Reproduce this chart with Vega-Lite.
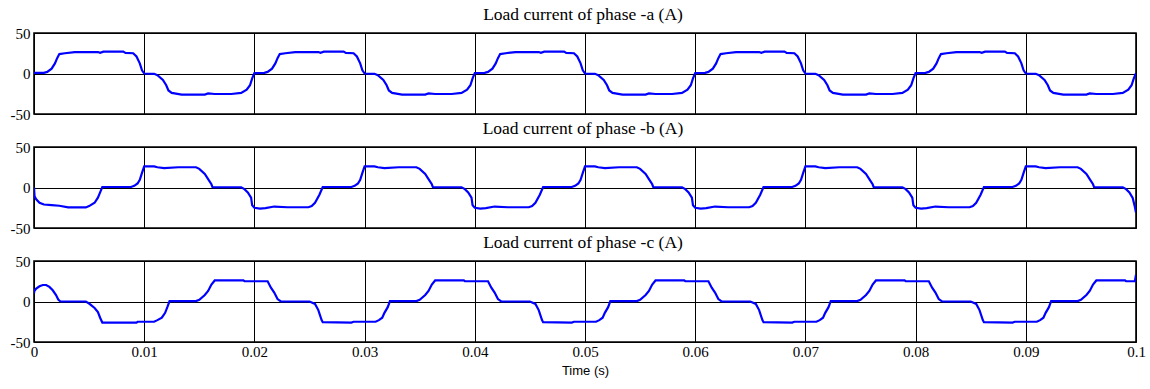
{
  "$schema": "https://vega.github.io/schema/vega-lite/v6.json",
  "padding": {"left": 9, "top": 4, "right": 5, "bottom": 2},
  "spacing": 33,
  "bounds": "flush",
  "config": {
    "view": {"stroke": "black", "strokeWidth": 1.6},
    "font": "Liberation Serif",
    "title": {"font": "Liberation Serif", "fontSize": 17.5, "fontWeight": "normal", "color": "black", "anchor": "middle", "baseline": "alphabetic", "frame": "group", "offset": 3, "dx": -2},
    "axis": {"domain": false, "ticks": false, "grid": true, "gridColor": "black", "gridOpacity": 1, "gridWidth": 1, "labelFont": "Liberation Serif", "labelFontSize": 15, "labelColor": "black", "labelFlush": false, "labelOverlap": false, "title": null}
  },
  "datasets": {
    "a": [
      {"t":0,"i":0.8},{"t":0.0009,"i":0.8},{"t":0.0012,"i":2},{"t":0.0016,"i":6},{"t":0.0019,"i":12.5},{"t":0.0021,"i":19},{"t":0.0023,"i":24},{"t":0.0028,"i":25},{"t":0.0037,"i":26.5},{"t":0.0058,"i":26.5},{"t":0.006,"i":25.5},{"t":0.0063,"i":27},{"t":0.0081,"i":27},{"t":0.0083,"i":25.5},{"t":0.009,"i":25},{"t":0.0093,"i":21},{"t":0.0096,"i":12.5},{"t":0.0098,"i":4},{"t":0.01,"i":0},{"t":0.0109,"i":-0.4},{"t":0.0112,"i":-2},{"t":0.0117,"i":-8},{"t":0.012,"i":-14.5},{"t":0.0122,"i":-21},{"t":0.0125,"i":-24},{"t":0.0134,"i":-26},{"t":0.0155,"i":-26},{"t":0.0158,"i":-24.6},{"t":0.0164,"i":-25.3},{"t":0.0179,"i":-25.3},{"t":0.0188,"i":-24},{"t":0.0193,"i":-20},{"t":0.0196,"i":-14.5},{"t":0.0198,"i":-6},
      {"t":0.02,"i":0.5},{"t":0.0209,"i":0.8},{"t":0.0212,"i":2},{"t":0.0216,"i":6},{"t":0.0219,"i":12.5},{"t":0.0221,"i":19},{"t":0.0223,"i":24},{"t":0.0228,"i":25},{"t":0.0237,"i":26.5},{"t":0.0258,"i":26.5},{"t":0.026,"i":25.5},{"t":0.0263,"i":27},{"t":0.0281,"i":27},{"t":0.0283,"i":25.5},{"t":0.029,"i":25},{"t":0.0293,"i":21},{"t":0.0296,"i":12.5},{"t":0.0298,"i":4},{"t":0.03,"i":0},{"t":0.0309,"i":-0.4},{"t":0.0312,"i":-2},{"t":0.0317,"i":-8},{"t":0.032,"i":-14.5},{"t":0.0322,"i":-21},{"t":0.0325,"i":-24},{"t":0.0334,"i":-26},{"t":0.0355,"i":-26},{"t":0.0358,"i":-24.6},{"t":0.0364,"i":-25.3},{"t":0.0379,"i":-25.3},{"t":0.0388,"i":-24},{"t":0.0393,"i":-20},{"t":0.0396,"i":-14.5},{"t":0.0398,"i":-6},
      {"t":0.04,"i":0.5},{"t":0.0409,"i":0.8},{"t":0.0412,"i":2},{"t":0.0416,"i":6},{"t":0.0419,"i":12.5},{"t":0.0421,"i":19},{"t":0.0423,"i":24},{"t":0.0428,"i":25},{"t":0.0437,"i":26.5},{"t":0.0458,"i":26.5},{"t":0.046,"i":25.5},{"t":0.0463,"i":27},{"t":0.0481,"i":27},{"t":0.0483,"i":25.5},{"t":0.049,"i":25},{"t":0.0493,"i":21},{"t":0.0496,"i":12.5},{"t":0.0498,"i":4},{"t":0.05,"i":0},{"t":0.0509,"i":-0.4},{"t":0.0512,"i":-2},{"t":0.0517,"i":-8},{"t":0.052,"i":-14.5},{"t":0.0522,"i":-21},{"t":0.0525,"i":-24},{"t":0.0534,"i":-26},{"t":0.0555,"i":-26},{"t":0.0558,"i":-24.6},{"t":0.0564,"i":-25.3},{"t":0.0579,"i":-25.3},{"t":0.0588,"i":-24},{"t":0.0593,"i":-20},{"t":0.0596,"i":-14.5},{"t":0.0598,"i":-6},
      {"t":0.06,"i":0.5},{"t":0.0609,"i":0.8},{"t":0.0612,"i":2},{"t":0.0616,"i":6},{"t":0.0619,"i":12.5},{"t":0.0621,"i":19},{"t":0.0623,"i":24},{"t":0.0628,"i":25},{"t":0.0637,"i":26.5},{"t":0.0658,"i":26.5},{"t":0.066,"i":25.5},{"t":0.0663,"i":27},{"t":0.0681,"i":27},{"t":0.0683,"i":25.5},{"t":0.069,"i":25},{"t":0.0693,"i":21},{"t":0.0696,"i":12.5},{"t":0.0698,"i":4},{"t":0.07,"i":0},{"t":0.0709,"i":-0.4},{"t":0.0712,"i":-2},{"t":0.0717,"i":-8},{"t":0.072,"i":-14.5},{"t":0.0722,"i":-21},{"t":0.0725,"i":-24},{"t":0.0734,"i":-26},{"t":0.0755,"i":-26},{"t":0.0758,"i":-24.6},{"t":0.0764,"i":-25.3},{"t":0.0779,"i":-25.3},{"t":0.0788,"i":-24},{"t":0.0793,"i":-20},{"t":0.0796,"i":-14.5},{"t":0.0798,"i":-6},
      {"t":0.08,"i":0.5},{"t":0.0809,"i":0.8},{"t":0.0812,"i":2},{"t":0.0816,"i":6},{"t":0.0819,"i":12.5},{"t":0.0821,"i":19},{"t":0.0823,"i":24},{"t":0.0828,"i":25},{"t":0.0837,"i":26.5},{"t":0.0858,"i":26.5},{"t":0.086,"i":25.5},{"t":0.0863,"i":27},{"t":0.0881,"i":27},{"t":0.0883,"i":25.5},{"t":0.089,"i":25},{"t":0.0893,"i":21},{"t":0.0896,"i":12.5},{"t":0.0898,"i":4},{"t":0.09,"i":0},{"t":0.0909,"i":-0.4},{"t":0.0912,"i":-2},{"t":0.0917,"i":-8},{"t":0.092,"i":-14.5},{"t":0.0922,"i":-21},{"t":0.0925,"i":-24},{"t":0.0934,"i":-26},{"t":0.0955,"i":-26},{"t":0.0958,"i":-24.6},{"t":0.0964,"i":-25.3},{"t":0.0979,"i":-25.3},{"t":0.0988,"i":-24},{"t":0.0993,"i":-20},{"t":0.0996,"i":-14.5},{"t":0.0998,"i":-6},{"t":0.1,"i":0.5}
    ],
    "b": [
      {"t":0,"i":0},{"t":0.00005,"i":-11},{"t":0.0002,"i":-14.6},{"t":0.0005,"i":-18.8},{"t":0.0009,"i":-21},{"t":0.0016,"i":-21.7},{"t":0.0023,"i":-22.5},{"t":0.0031,"i":-24.6},{"t":0.0047,"i":-24.6},{"t":0.005,"i":-23},{"t":0.0055,"i":-18.8},{"t":0.0058,"i":-12.5},{"t":0.006,"i":-6},{"t":0.0062,"i":0.6},{"t":0.0088,"i":0.6},{"t":0.0091,"i":2},{"t":0.0094,"i":5},{"t":0.0096,"i":9.5},{"t":0.0098,"i":18},{"t":0.01,"i":26},{"t":0.0109,"i":26},{"t":0.0112,"i":25},{"t":0.0118,"i":24},{"t":0.0131,"i":25},{"t":0.0147,"i":25},{"t":0.015,"i":23},{"t":0.0155,"i":16.7},{"t":0.0158,"i":10.4},{"t":0.0161,"i":4},{"t":0.0162,"i":0.3},{"t":0.0188,"i":0.3},{"t":0.0191,"i":-2},{"t":0.0194,"i":-6},{"t":0.0197,"i":-12.5},{"t":0.0198,"i":-22},
      {"t":0.02,"i":-25},{"t":0.0205,"i":-26},{"t":0.021,"i":-25.5},{"t":0.0218,"i":-23.5},{"t":0.023,"i":-24.4},{"t":0.0249,"i":-24.4},{"t":0.0252,"i":-23},{"t":0.0255,"i":-19},{"t":0.0259,"i":-9},{"t":0.0262,"i":0.6},{"t":0.0288,"i":0.6},{"t":0.0291,"i":2},{"t":0.0294,"i":5},{"t":0.0296,"i":9.5},{"t":0.0298,"i":18},{"t":0.03,"i":26},{"t":0.0309,"i":26},{"t":0.0312,"i":25},{"t":0.0318,"i":24},{"t":0.0331,"i":25},{"t":0.0347,"i":25},{"t":0.035,"i":23},{"t":0.0355,"i":16.7},{"t":0.0358,"i":10.4},{"t":0.0361,"i":4},{"t":0.0362,"i":0.3},{"t":0.0388,"i":0.3},{"t":0.0391,"i":-2},{"t":0.0394,"i":-6},{"t":0.0397,"i":-12.5},{"t":0.0398,"i":-22},
      {"t":0.04,"i":-25},{"t":0.0405,"i":-26},{"t":0.041,"i":-25.5},{"t":0.0418,"i":-23.5},{"t":0.043,"i":-24.4},{"t":0.0449,"i":-24.4},{"t":0.0452,"i":-23},{"t":0.0455,"i":-19},{"t":0.0459,"i":-9},{"t":0.0462,"i":0.6},{"t":0.0488,"i":0.6},{"t":0.0491,"i":2},{"t":0.0494,"i":5},{"t":0.0496,"i":9.5},{"t":0.0498,"i":18},{"t":0.05,"i":26},{"t":0.0509,"i":26},{"t":0.0512,"i":25},{"t":0.0518,"i":24},{"t":0.0531,"i":25},{"t":0.0547,"i":25},{"t":0.055,"i":23},{"t":0.0555,"i":16.7},{"t":0.0558,"i":10.4},{"t":0.0561,"i":4},{"t":0.0562,"i":0.3},{"t":0.0588,"i":0.3},{"t":0.0591,"i":-2},{"t":0.0594,"i":-6},{"t":0.0597,"i":-12.5},{"t":0.0598,"i":-22},
      {"t":0.06,"i":-25},{"t":0.0605,"i":-26},{"t":0.061,"i":-25.5},{"t":0.0618,"i":-23.5},{"t":0.063,"i":-24.4},{"t":0.0649,"i":-24.4},{"t":0.0652,"i":-23},{"t":0.0655,"i":-19},{"t":0.0659,"i":-9},{"t":0.0662,"i":0.6},{"t":0.0688,"i":0.6},{"t":0.0691,"i":2},{"t":0.0694,"i":5},{"t":0.0696,"i":9.5},{"t":0.0698,"i":18},{"t":0.07,"i":26},{"t":0.0709,"i":26},{"t":0.0712,"i":25},{"t":0.0718,"i":24},{"t":0.0731,"i":25},{"t":0.0747,"i":25},{"t":0.075,"i":23},{"t":0.0755,"i":16.7},{"t":0.0758,"i":10.4},{"t":0.0761,"i":4},{"t":0.0762,"i":0.3},{"t":0.0788,"i":0.3},{"t":0.0791,"i":-2},{"t":0.0794,"i":-6},{"t":0.0797,"i":-12.5},{"t":0.0798,"i":-22},
      {"t":0.08,"i":-25},{"t":0.0805,"i":-26},{"t":0.081,"i":-25.5},{"t":0.0818,"i":-23.5},{"t":0.083,"i":-24.4},{"t":0.0849,"i":-24.4},{"t":0.0852,"i":-23},{"t":0.0855,"i":-19},{"t":0.0859,"i":-9},{"t":0.0862,"i":0.6},{"t":0.0888,"i":0.6},{"t":0.0891,"i":2},{"t":0.0894,"i":5},{"t":0.0896,"i":9.5},{"t":0.0898,"i":18},{"t":0.09,"i":26},{"t":0.0909,"i":26},{"t":0.0912,"i":25},{"t":0.0918,"i":24},{"t":0.0931,"i":25},{"t":0.0947,"i":25},{"t":0.095,"i":23},{"t":0.0955,"i":16.7},{"t":0.0958,"i":10.4},{"t":0.0961,"i":4},{"t":0.0962,"i":0.3},{"t":0.0988,"i":0.3},{"t":0.0991,"i":-2},{"t":0.0994,"i":-6},{"t":0.0997,"i":-13},{"t":0.0999,"i":-24},{"t":0.1,"i":-31}
    ],
    "c": [
      {"t":0,"i":10},{"t":0.00003,"i":13},{"t":0.0002,"i":16},{"t":0.0005,"i":18.8},{"t":0.0008,"i":20.4},{"t":0.0011,"i":20.4},{"t":0.0014,"i":18},{"t":0.0017,"i":13.8},{"t":0.002,"i":8},{"t":0.0022,"i":2.5},{"t":0.0024,"i":0},{"t":0.0047,"i":0},{"t":0.005,"i":-2.5},{"t":0.0055,"i":-8},{"t":0.0058,"i":-13},{"t":0.006,"i":-20},{"t":0.0062,"i":-26},{"t":0.0093,"i":-26},{"t":0.0094,"i":-25},{"t":0.0109,"i":-25},{"t":0.0112,"i":-23},{"t":0.0116,"i":-20},{"t":0.0119,"i":-14},{"t":0.0121,"i":-7},{"t":0.0123,"i":0.5},{"t":0.0147,"i":0.5},{"t":0.015,"i":2},{"t":0.0155,"i":8},{"t":0.0158,"i":13},{"t":0.0161,"i":21},{"t":0.0164,"i":26},{"t":0.019,"i":26},{"t":0.0191,"i":25},
      {"t":0.02,"i":25},{"t":0.0212,"i":25},{"t":0.0215,"i":17},{"t":0.0218,"i":11},{"t":0.0221,"i":3},{"t":0.0224,"i":0},{"t":0.025,"i":0},{"t":0.0255,"i":-3},{"t":0.0258,"i":-10.6},{"t":0.0261,"i":-23},{"t":0.0262,"i":-25.5},{"t":0.0288,"i":-26},{"t":0.029,"i":-25},{"t":0.031,"i":-25},{"t":0.0313,"i":-23},{"t":0.0316,"i":-20},{"t":0.0318,"i":-14},{"t":0.0321,"i":-7},{"t":0.0323,"i":0.5},{"t":0.0347,"i":0.5},{"t":0.035,"i":2},{"t":0.0355,"i":8},{"t":0.0358,"i":13},{"t":0.0361,"i":21},{"t":0.0364,"i":26},{"t":0.039,"i":26},{"t":0.0391,"i":25},
      {"t":0.04,"i":25},{"t":0.0412,"i":25},{"t":0.0415,"i":17},{"t":0.0418,"i":11},{"t":0.0421,"i":3},{"t":0.0424,"i":0},{"t":0.045,"i":0},{"t":0.0455,"i":-3},{"t":0.0458,"i":-10.6},{"t":0.0461,"i":-23},{"t":0.0462,"i":-25.5},{"t":0.0488,"i":-26},{"t":0.049,"i":-25},{"t":0.051,"i":-25},{"t":0.0513,"i":-23},{"t":0.0516,"i":-20},{"t":0.0518,"i":-14},{"t":0.0521,"i":-7},{"t":0.0523,"i":0.5},{"t":0.0547,"i":0.5},{"t":0.055,"i":2},{"t":0.0555,"i":8},{"t":0.0558,"i":13},{"t":0.0561,"i":21},{"t":0.0564,"i":26},{"t":0.059,"i":26},{"t":0.0591,"i":25},
      {"t":0.06,"i":25},{"t":0.0612,"i":25},{"t":0.0615,"i":17},{"t":0.0618,"i":11},{"t":0.0621,"i":3},{"t":0.0624,"i":0},{"t":0.065,"i":0},{"t":0.0655,"i":-3},{"t":0.0658,"i":-10.6},{"t":0.0661,"i":-23},{"t":0.0662,"i":-25.5},{"t":0.0688,"i":-26},{"t":0.069,"i":-25},{"t":0.071,"i":-25},{"t":0.0713,"i":-23},{"t":0.0716,"i":-20},{"t":0.0718,"i":-14},{"t":0.0721,"i":-7},{"t":0.0723,"i":0.5},{"t":0.0747,"i":0.5},{"t":0.075,"i":2},{"t":0.0755,"i":8},{"t":0.0758,"i":13},{"t":0.0761,"i":21},{"t":0.0764,"i":26},{"t":0.079,"i":26},{"t":0.0791,"i":25},
      {"t":0.08,"i":25},{"t":0.0812,"i":25},{"t":0.0815,"i":17},{"t":0.0818,"i":11},{"t":0.0821,"i":3},{"t":0.0824,"i":0},{"t":0.085,"i":0},{"t":0.0855,"i":-3},{"t":0.0858,"i":-10.6},{"t":0.0861,"i":-23},{"t":0.0862,"i":-25.5},{"t":0.0888,"i":-26},{"t":0.089,"i":-25},{"t":0.091,"i":-25},{"t":0.0913,"i":-23},{"t":0.0916,"i":-20},{"t":0.0918,"i":-14},{"t":0.0921,"i":-7},{"t":0.0923,"i":0.5},{"t":0.0947,"i":0.5},{"t":0.095,"i":2},{"t":0.0955,"i":8},{"t":0.0958,"i":13},{"t":0.0961,"i":21},{"t":0.0964,"i":26},{"t":0.099,"i":26},{"t":0.0991,"i":25},{"t":0.0999,"i":25},{"t":0.1,"i":33}
    ]
  },
  "vconcat": [
    {
      "width": 1102, "height": 81,
      "title": "Load current of phase -a (A)",
      "data": {"name": "a"},
      "mark": {"type": "line", "color": "#0000ff", "strokeWidth": 2.2, "clip": true},
      "encoding": {
        "x": {"field": "t", "type": "quantitative", "scale": {"domain": [0, 0.1], "nice": false}, "axis": {"values": [0,0.01,0.02,0.03,0.04,0.05,0.06,0.07,0.08,0.09,0.1], "labels": false, "minExtent": 0, "maxExtent": 0}},
        "y": {"field": "i", "type": "quantitative", "scale": {"domain": [-50, 50], "nice": false}, "axis": {"values": [-50, 0, 50], "labelPadding": 4, "minExtent": 24, "maxExtent": 24, "labelExpr": "datum.value < 0 ? '-' + (-datum.value) : '' + datum.value"}}
      }
    },
    {
      "width": 1102, "height": 81,
      "title": "Load current of phase -b (A)",
      "data": {"name": "b"},
      "mark": {"type": "line", "color": "#0000ff", "strokeWidth": 2.2, "clip": true},
      "encoding": {
        "x": {"field": "t", "type": "quantitative", "scale": {"domain": [0, 0.1], "nice": false}, "axis": {"values": [0,0.01,0.02,0.03,0.04,0.05,0.06,0.07,0.08,0.09,0.1], "labels": false, "minExtent": 0, "maxExtent": 0}},
        "y": {"field": "i", "type": "quantitative", "scale": {"domain": [-50, 50], "nice": false}, "axis": {"values": [-50, 0, 50], "labelPadding": 4, "minExtent": 24, "maxExtent": 24, "labelExpr": "datum.value < 0 ? '-' + (-datum.value) : '' + datum.value"}}
      }
    },
    {
      "width": 1102, "height": 81,
      "title": "Load current of phase -c (A)",
      "data": {"name": "c"},
      "mark": {"type": "line", "color": "#0000ff", "strokeWidth": 2.2, "clip": true},
      "encoding": {
        "x": {"field": "t", "type": "quantitative", "scale": {"domain": [0, 0.1], "nice": false}, "axis": {"values": [0,0.01,0.02,0.03,0.04,0.05,0.06,0.07,0.08,0.09,0.1], "labelPadding": 2, "labelExpr": "'' + round(datum.value * 100) / 100", "title": "Time (s)", "titleFont": "Liberation Sans", "titleFontSize": 13, "titleFontWeight": "normal", "titleColor": "black", "titlePadding": 5}},
        "y": {"field": "i", "type": "quantitative", "scale": {"domain": [-50, 50], "nice": false}, "axis": {"values": [-50, 0, 50], "labelPadding": 4, "minExtent": 24, "maxExtent": 24, "labelExpr": "datum.value < 0 ? '-' + (-datum.value) : '' + datum.value"}}
      }
    }
  ]
}
